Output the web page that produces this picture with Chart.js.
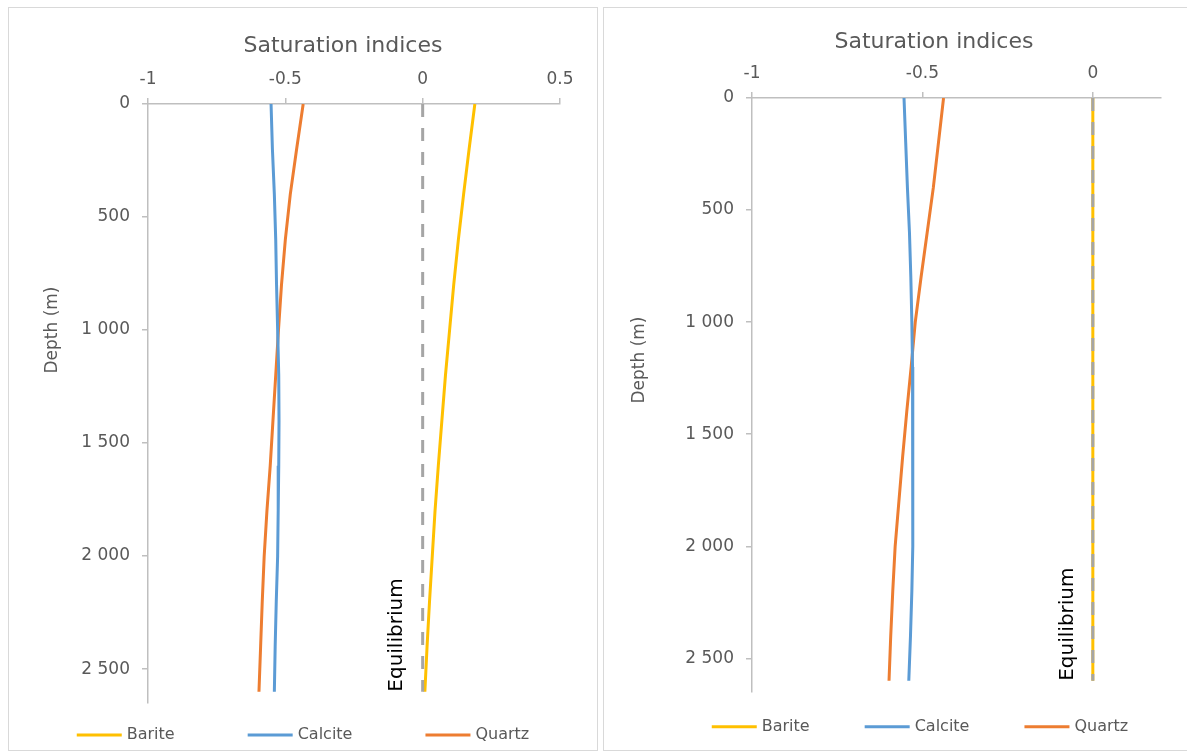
<!DOCTYPE html>
<html><head><meta charset="utf-8">
<script src="https://cdn.jsdelivr.net/npm/chart.js@4.4.1/dist/chart.umd.min.js"></script>
<style>
html,body{margin:0;padding:0;background:#fff;overflow:hidden;width:1187px;height:753px;}
body{position:relative;}
.panel{position:absolute;border:1px solid #d9d9d9;box-sizing:border-box;background:#fff;}
#p1{left:8px;top:7px;width:590px;height:744px;}
#p2{left:603px;top:7px;width:700px;height:744px;}
canvas{position:absolute;left:0;top:0;}
</style></head><body>
<div class="panel" id="p1"><canvas id="c1" width="588" height="742"></canvas></div>
<div class="panel" id="p2"><canvas id="c2" width="632" height="742"></canvas></div>
<script>
// ---------- data ----------
const seriesNames = ['Barite', 'Calcite', 'Quartz'];
const depths = [0, 200, 400, 600, 800, 1000, 1200, 1400, 1600, 1800, 2000, 2200, 2400, 2600];

const bariteLeft  = [0.190, 0.169, 0.149, 0.130, 0.113, 0.098, 0.083, 0.070, 0.057, 0.045, 0.035, 0.025, 0.016, 0.008];
const calciteLeft = [-0.552, -0.547, -0.540, -0.535, -0.532, -0.528, -0.524, -0.523, -0.524, -0.526, -0.528, -0.533, -0.537, -0.540];
const quartzLeft  = [-0.435, -0.459, -0.482, -0.500, -0.514, -0.525, -0.535, -0.545, -0.555, -0.567, -0.577, -0.584, -0.590, -0.596];

const bariteRight  = [0, 0, 0, 0, 0, 0, 0, 0, 0, 0, 0, 0, 0, 0];
const calciteRight = [-0.554, -0.549, -0.544, -0.538, -0.534, -0.531, -0.529, -0.528, -0.528, -0.528, -0.529, -0.531, -0.535, -0.540];
const quartzRight  = [-0.438, -0.453, -0.468, -0.486, -0.504, -0.521, -0.533, -0.546, -0.558, -0.569, -0.580, -0.587, -0.593, -0.598];

const eqDepths = [0, 2600];
const eqValues = [0, 0];
const equilibriumLabel = 'Equilibrium';

const xTicksLeft  = [-1, -0.5, 0, 0.5];
const xTicksRight = [-1, -0.5, 0];
const depthTicks  = [0, 500, 1000, 1500, 2000, 2500];
const xTitle = 'Saturation indices';
const yTitle = 'Depth (m)';

// ---------- styling ----------
const FONT = "'DejaVu Sans', sans-serif";
const TEXT = '#595959';
const AXIS = '#BFBFBF';
const COLORS = { Barite: '#FFC000', Calcite: '#5B9BD5', Quartz: '#ED7D31', Eq: '#A5A5A5' };

function pts(xs, ys) { return xs.map((x, i) => ({ x: x, y: ys[i] })); }
function fmtDepth(v) { return String(v).replace(/\B(?=(\d{3})+(?!\d))/g, ' '); }

const decor = {
  id: 'decor',
  afterDatasetsDraw(chart, args, o) {
    const ctx = chart.ctx, xs = chart.scales.x, ys = chart.scales.y, a = chart.chartArea;
    // Equilibrium label
    ctx.save();
    ctx.translate(xs.getPixelForValue(eqValues[0]) + o.eqDx, ys.getPixelForValue(eqDepths[1]));
    ctx.rotate(-Math.PI / 2);
    ctx.font = '20px ' + FONT; ctx.fillStyle = '#000'; ctx.textAlign = 'left'; ctx.textBaseline = 'middle';
    ctx.fillText(equilibriumLabel, 0, 0);
    ctx.restore();
    // axis titles
    ctx.save();
    ctx.font = '22px ' + FONT; ctx.fillStyle = TEXT; ctx.textAlign = 'center'; ctx.textBaseline = 'alphabetic';
    ctx.fillText(xTitle, a.left + o.titleDx, o.titleY);
    ctx.translate(o.yTitleX, o.yTitleY); ctx.rotate(-Math.PI / 2);
    ctx.font = '17px ' + FONT; ctx.textBaseline = 'middle';
    ctx.fillText(yTitle, 0, 0);
    ctx.restore();
    // legend
    ctx.save();
    ctx.font = '16px ' + FONT;
    const items = chart.data.datasets.filter(d => !d.isRef);
    const lineLen = 45, tgap = 5;
    const widths = items.map(d => lineLen + tgap + ctx.measureText(d.label).width);
    const total = widths.reduce((s, w) => s + w, 0) + o.legendGap * (items.length - 1);
    let x = chart.width / 2 - total / 2;
    items.forEach((d, i) => {
      ctx.strokeStyle = d.borderColor; ctx.lineWidth = 3; ctx.lineCap = 'butt';
      ctx.beginPath(); ctx.moveTo(x, o.legendY); ctx.lineTo(x + lineLen, o.legendY); ctx.stroke();
      ctx.fillStyle = TEXT; ctx.textAlign = 'left'; ctx.textBaseline = 'middle';
      ctx.fillText(d.label, x + lineLen + tgap, o.legendY);
      x += widths[i] + o.legendGap;
    });
    ctx.restore();
  }
};

function makeDatasets(b, c, q) {
  const vals = { Barite: b, Calcite: c, Quartz: q };
  const ds = [{
    label: 'Equilibrium', isRef: true, data: pts(eqValues, eqDepths), showLine: true,
    borderColor: COLORS.Eq, backgroundColor: COLORS.Eq, borderWidth: 3, borderDash: [13, 11],
    pointRadius: 0, order: 0
  }];
  seriesNames.forEach(n => ds.push({
    label: n, data: pts(vals[n], depths), showLine: true, borderColor: COLORS[n], backgroundColor: COLORS[n],
    borderWidth: 3, pointRadius: 0, tension: 0, order: 1
  }));
  return ds;
}

function makeChart(id, data, xmin, xmax, xTicks, geo) {
  return new Chart(document.getElementById(id), {
    type: 'scatter',
    data: { datasets: data },
    plugins: [decor],
    options: {
      responsive: false, animation: false, events: [],
      layout: { padding: { left: 0, top: 0, right: geo.padRight, bottom: geo.padBottom } },
      scales: {
        x: {
          type: 'linear', position: 'top', min: xmin, max: xmax,
          afterBuildTicks: s => { s.ticks = xTicks.map(v => ({ value: v })); },
          afterFit: s => { s.height = geo.xHeight; },
          grid: { display: true, drawOnChartArea: false, drawTicks: true, tickLength: 6, color: AXIS, lineWidth: 1.5 },
          border: { display: true, color: AXIS, width: 1.5 },
          ticks: { color: TEXT, font: { family: FONT, size: 17 }, padding: 8, maxRotation: 0, callback: v => String(v) }
        },
        y: {
          type: 'linear', position: 'left', min: 0, max: 2650, reverse: true,
          afterBuildTicks: s => { s.ticks = depthTicks.map(v => ({ value: v })); },
          afterFit: s => { s.width = geo.yWidth; },
          grid: { display: true, drawOnChartArea: false, drawTicks: true, tickLength: 6, color: AXIS, lineWidth: 1.5 },
          border: { display: true, color: AXIS, width: 1.5 },
          ticks: { color: TEXT, font: { family: FONT, size: 17 }, padding: 12, callback: v => fmtDepth(v) }
        }
      },
      plugins: {
        legend: { display: false }, tooltip: { enabled: false },
        decor: geo.decor
      }
    }
  });
}

makeChart('c1', makeDatasets(bariteLeft, calciteLeft, quartzLeft), -1, 0.5, xTicksLeft, {
  padRight: 37, padBottom: 47, xHeight: 96, yWidth: 139,
  decor: { eqDx: -26, titleDx: 195, titleY: 43.7, yTitleX: 43.5, yTitleY: 322, legendY: 727, legendGap: 73 }
});
makeChart('c2', makeDatasets(bariteRight, calciteRight, quartzRight), -1, 0.2, xTicksRight, {
  padRight: 75, padBottom: 58, xHeight: 90, yWidth: 148,
  decor: { eqDx: -25.5, titleDx: 182, titleY: 40.3, yTitleX: 36, yTitleY: 352, legendY: 718.7, legendGap: 55 }
});
</script>
</body></html>
